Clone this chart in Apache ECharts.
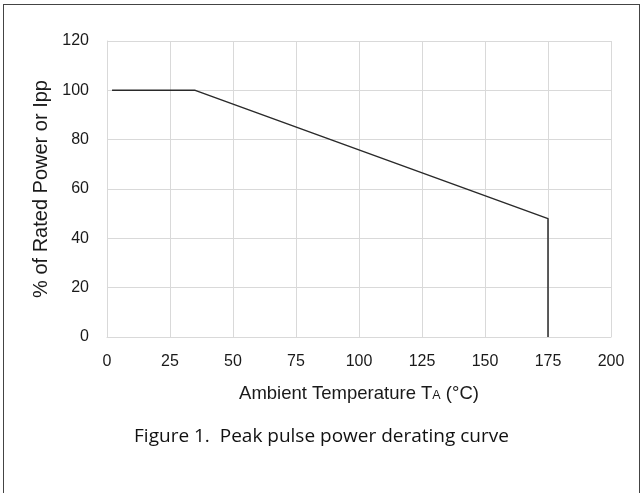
<!DOCTYPE html>
<html>
<head>
<meta charset="utf-8">
<script src="https://cdn.jsdelivr.net/npm/echarts@6/dist/echarts.min.js"></script>
<style>
  html, body { margin: 0; padding: 0; background: #fff; }
  .frame {
    position: absolute;
    left: 3px;
    top: 4px;
    width: 637px;
    height: 520px;
    border: 1px solid #444;
    box-sizing: border-box;
  }
  #chart {
    position: absolute;
    left: 0;
    top: 0;
    width: 643px;
    height: 493px;
  }
</style>
</head>
<body>
<div class="frame"></div>
<div id="chart"></div>
<script>
// 温度 (°C)
const temps = [2, 35, 175, 175]
// % of rated power
const power = [100, 100, 48, 0]
const xTicks = [0, 25, 50, 75, 100, 125, 150, 175, 200]
const yTicks = [0, 20, 40, 60, 80, 100, 120]

const titleFont = '"Open Sans", "Noto Sans", sans-serif'
const armFont = '"Liberation Sans", Arial, sans-serif'
const textColor = '#1a1a1a'

const chart = echarts.init(document.getElementById('chart'))
chart.setOption({
  animation: false,
  title: {
    text: 'Figure 1.  Peak pulse power derating curve',
    left: 'center',
    top: 422,
    textStyle: { fontSize: 19, fontWeight: 'normal', color: '#111', fontFamily: titleFont }
  },
  grid: {
    left: 107,
    right: 32,
    top: 41,
    bottom: 156
  },
  xAxis: {
    type: 'value',
    min: xTicks[0],
    max: xTicks[xTicks.length - 1],
    interval: 25,
    name: '{n|Ambient Temperature T}{s|A}{n| (°C)}',
    nameLocation: 'middle',
    nameGap: 47,
    nameTextStyle: {
      rich: {
        n: { fontSize: 18.5, color: textColor, fontFamily: armFont },
        s: { fontSize: 12.5, color: textColor, fontFamily: armFont, padding: [4, 0, 0, 0] }
      }
    },
    axisLine: { show: true, lineStyle: { color: '#d9d9d9', width: 1 } },
    axisTick: { show: false },
    axisLabel: { color: textColor, fontSize: 16, fontFamily: armFont, margin: 17 },
    splitLine: { show: true, lineStyle: { color: '#d9d9d9', width: 1 } }
  },
  yAxis: {
    type: 'value',
    min: yTicks[0],
    max: yTicks[yTicks.length - 1],
    interval: 20,
    name: '% of Rated Power or Ipp',
    nameLocation: 'middle',
    nameGap: 52,
    nameTextStyle: { fontSize: 20, color: textColor, fontFamily: armFont },
    axisLine: { show: true, lineStyle: { color: '#d9d9d9', width: 1 } },
    axisTick: { show: false },
    axisLabel: { color: textColor, fontSize: 16, fontFamily: armFont, margin: 18 },
    splitLine: { show: true, lineStyle: { color: '#d9d9d9', width: 1 } }
  },
  series: [
    {
      type: 'line',
      data: temps.map((t, i) => [t, power[i]]),
      showSymbol: false,
      lineStyle: { color: '#2a2a2a', width: 1.5 },
      silent: true
    }
  ]
})
</script>
</body>
</html>
